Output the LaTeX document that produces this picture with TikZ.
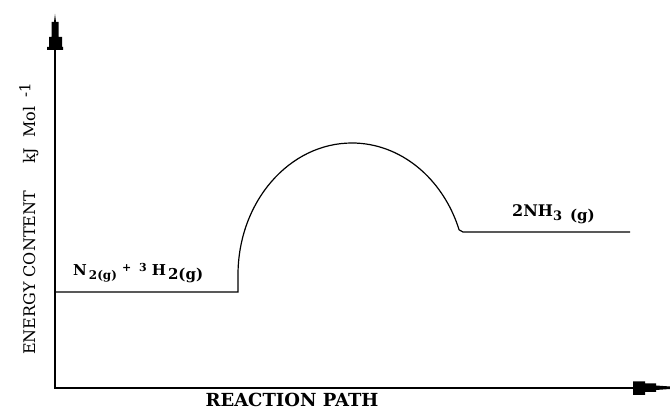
\documentclass[tikz,border=0pt]{standalone}
\usepackage{fontspec}
\setmainfont{DejaVu Serif}
\newcommand{\mysub}[2][12]{\raisebox{-0.45ex}{\fontsize{#1}{14}\selectfont #2}}
\newcommand{\mysup}[2][10]{\raisebox{0.55ex}{\fontsize{#1}{12}\selectfont #2}}
\begin{document}
\begin{tikzpicture}[x=1pt,y=-1pt,
  axisline/.style={line width=1.6pt},
  curveline/.style={line width=1.2pt},
  lab/.style={inner sep=0pt,anchor=base west,font=\bfseries\fontsize{15}{17}\selectfont},
  headfill/.style={fill=black}]
\useasboundingbox (0,0) rectangle (670,411);
% axes
\coordinate (O) at (55,388);
\coordinate (ytop) at (55,50);
\coordinate (xend) at (633,388);
\draw[axisline] (ytop) -- (O) -- (xend);
% arrow heads
\fill[headfill] (47,50) -- (63,50) -- (63,47) -- (62,47) -- (62,37) -- (58.5,37) -- (58.5,22) -- (56,22) -- (55,14) -- (54,22) -- (51.5,22) -- (51.5,37) -- (49,37) -- (49,47) -- (47,47) -- cycle;
\fill[headfill] (633,381.5) -- (645,381.5) -- (645,383.5) -- (656,383.5) -- (656,385.5) -- (670,386.5) -- (670,389) -- (656,390) -- (656,392) -- (645,392) -- (645,395) -- (633,395) -- cycle;
% energy profile
\coordinate (r0) at (55,292);
\coordinate (r1) at (238,292);
\coordinate (p0) at (463,232);
\coordinate (p1) at (630,232);
\draw[curveline] (r0) -- (r1) -- (238,275) arc[start angle=180,end angle=340,x radius=114,y radius=132] -- (p0) -- (p1);
% labels
\node[lab] (react) at (73,276) {N\hspace{2pt}\mysub[12]{2(g)}\hspace{5pt}\mysup[11]{+}\hspace{8pt}\mysup[11]{3}\hspace{5pt}H\hspace{2pt}\mysub[15]{2(g)}};
\node[lab,font=\bfseries\fontsize{16}{18}\selectfont] (prod) at (512,217) {2NH\mysub[13]{3}\hspace{8pt}\mysub[15]{(g)}};
\node[inner sep=0pt,anchor=base,font=\bfseries\fontsize{18}{20}\selectfont] (xlab) at (292,407) {REACTION PATH};
\node[inner sep=0pt,rotate=90,anchor=base west,font=\fontsize{16}{18}\selectfont] (ylab) at (35,355) {ENERGY CONTENT\hspace{27pt}kJ\hspace{10pt}Mol\hspace{9pt}\mysup[15]{-1}};
\end{tikzpicture}
\end{document}
